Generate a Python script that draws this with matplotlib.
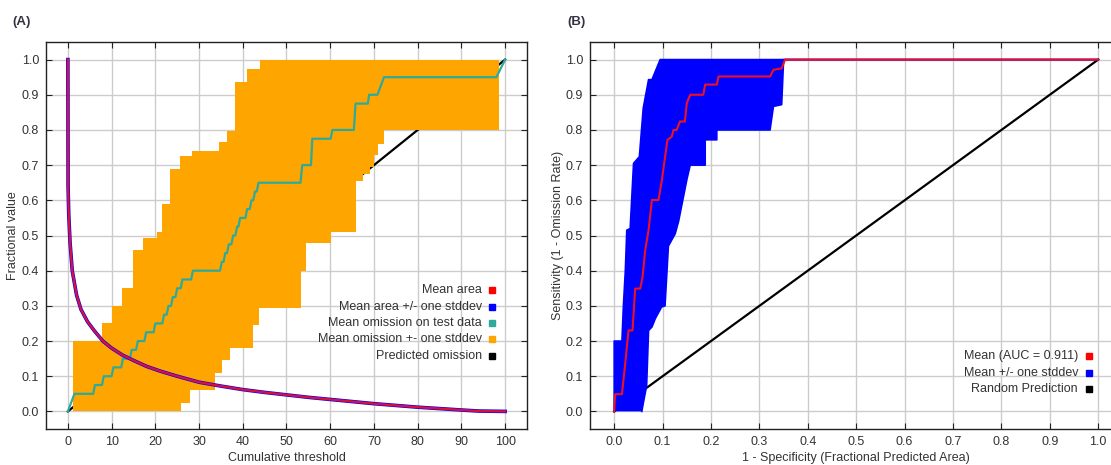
import numpy as np
import matplotlib
matplotlib.use("Agg")
import matplotlib.pyplot as plt

plt.rcParams['font.family'] = ['Liberation Sans', 'DejaVu Sans']

# ---------------- Panel A data ----------------
area_x = [0, 0.05, 0.2, 0.5, 1, 2, 3, 4.5, 6, 8, 10, 12.5, 15, 18, 21, 25, 30, 35, 40,
          45, 50, 55, 60, 65, 70, 75, 80, 85, 90, 94, 100]
area_y = [1.0, 0.64, 0.56, 0.48, 0.40, 0.33, 0.29, 0.255, 0.23, 0.20, 0.18, 0.16, 0.145,
          0.128, 0.115, 0.10, 0.083, 0.072, 0.062, 0.054, 0.047, 0.04, 0.034, 0.028,
          0.022, 0.017, 0.012, 0.008, 0.004, 0.001, 0.0]

om_x = [0, 1.5, 5.8, 6.2, 7.8, 8.2, 10, 10.4, 12.2, 12.6, 14.2, 14.6, 15.6, 16, 17.5,
        17.9, 19.6, 20, 21.6, 22, 22.6, 23, 23.6, 24, 24.6, 25, 25.8, 26.2, 28.2, 28.6,
        34.8, 35.2, 35.6, 36, 36.4, 36.8, 37.4, 37.8, 38.3, 38.7, 39, 39.4, 40.6, 41,
        41.6, 42, 42.4, 42.8, 43.2, 43.6, 53.2, 53.6, 55.6, 55.9, 60.1, 60.5, 65.4, 65.8,
        68.6, 68.9, 70.8, 72.3, 98, 100]
om_y = [0, 0.05, 0.05, 0.075, 0.075, 0.1, 0.1, 0.125, 0.125, 0.15, 0.15, 0.175, 0.175,
        0.2, 0.2, 0.225, 0.225, 0.25, 0.25, 0.275, 0.275, 0.3, 0.3, 0.325, 0.325, 0.35,
        0.35, 0.375, 0.375, 0.4, 0.4, 0.425, 0.425, 0.45, 0.45, 0.475, 0.475, 0.5, 0.5,
        0.525, 0.525, 0.55, 0.55, 0.575, 0.575, 0.6, 0.6, 0.625, 0.625, 0.65, 0.65, 0.70,
        0.70, 0.775, 0.775, 0.80, 0.80, 0.875, 0.875, 0.90, 0.90, 0.95, 0.95, 1.0]

om_up_x = [1.2, 7.7, 10, 12.3, 14.9, 17.2, 20.3, 21.5, 23.4, 25.7, 28.4, 34.5, 36.4,
           38.3, 41, 44, 99.5]
om_up_y = [0.2, 0.25, 0.3, 0.35, 0.46, 0.494, 0.509, 0.59, 0.689, 0.727, 0.741, 0.765,
           0.798, 0.936, 0.974, 1.0, 1.0]
om_lo_x = [1.2, 25.8, 28.0, 33.6, 35.2, 37.0, 42.4, 43.8, 53.4, 54.5, 60.1, 65.8, 67.5,
           69.2, 70.0, 71.0, 72.2, 98.6, 99.5]
om_lo_y = [0.0, 0.025, 0.06, 0.11, 0.145, 0.18, 0.245, 0.295, 0.40, 0.48, 0.51, 0.656,
           0.675, 0.695, 0.73, 0.76, 0.80, 1.0, 1.0]

pred_x = [0, 100]
pred_y = [0, 1]

legend_a = ["Mean area", "Mean area +/- one stddev", "Mean omission on test data",
            "Mean omission +- one stddev", "Predicted omission"]

# ---------------- Panel B data ----------------
roc_x = [0, 0.002, 0.016, 0.0227, 0.0295, 0.0378, 0.0434, 0.0537, 0.0586, 0.064, 0.071,
         0.0778, 0.0916, 0.0985, 0.110, 0.119, 0.1226, 0.129, 0.136, 0.146, 0.150, 0.157,
         0.184, 0.188, 0.212, 0.2155, 0.322, 0.329, 0.346, 0.353, 1.0]
roc_y = [0, 0.049, 0.049, 0.135, 0.23, 0.23, 0.349, 0.349, 0.382, 0.458, 0.515, 0.601,
         0.601, 0.658, 0.772, 0.781, 0.80, 0.80, 0.824, 0.824, 0.876, 0.90, 0.90, 0.929,
         0.929, 0.952, 0.952, 0.971, 0.975, 1.0, 1.0]

roc_up_x = [0, 0, 0.016, 0.019, 0.023, 0.026, 0.033, 0.040, 0.052, 0.060, 0.071, 0.078,
            0.095, 1.0]
roc_up_y = [0, 0.2, 0.2, 0.30, 0.40, 0.515, 0.52, 0.705, 0.724, 0.862, 0.943, 0.943,
            1.0, 1.0]
roc_lo_x = [0.057, 0.061, 0.067, 0.071, 0.078, 0.085, 0.098, 0.105, 0.112, 0.126, 0.133,
            0.150, 0.157, 0.188, 0.188, 0.212, 0.212, 0.322, 0.329, 0.346, 0.35, 1.0]
roc_lo_y = [0.0, 0.03, 0.073, 0.23, 0.24, 0.264, 0.297, 0.30, 0.47, 0.505, 0.54, 0.658,
            0.70, 0.70, 0.772, 0.772, 0.80, 0.80, 0.867, 0.872, 1.0, 1.0]

rand_x = [0, 1]
rand_y = [0, 1]

legend_b = ["Mean (AUC = 0.911)", "Mean +/- one stddev", "Random Prediction"]

# ---------------- styling ----------------
C_RED = "#ff0000"
C_BLUE = "#0000ff"
C_TEAL = "#2eaa9c"
C_ORANGE = "#ffa500"
C_BLACK = "#000000"
TXT = "#333333"
GRID = "#cccccc"


def step_poly(xs, ys):
    """Staircase (steps-post) vertices from step data."""
    px, py = [], []
    for i in range(len(xs)):
        if i > 0:
            px.append(xs[i]); py.append(ys[i - 1])
        px.append(xs[i]); py.append(ys[i])
    return px, py


def style_axes(ax):
    ax.grid(True, color=GRID, linewidth=1.0, zorder=0)
    ax.set_axisbelow(True)
    ax.tick_params(direction='in', top=True, right=True, length=4, width=0.8,
                   labelsize=9, labelcolor=TXT, pad=5, color="#222222")
    for s in ax.spines.values():
        s.set_color("#222222")
        s.set_linewidth(1.0)


fig = plt.figure(figsize=(11.11, 4.65), dpi=100)

# ---------- Panel A ----------
axA = fig.add_axes([46 / 1111, 1 - 429 / 465, 481 / 1111, 387 / 465])
style_axes(axA)
axA.plot(pred_x, pred_y, color=C_BLACK, lw=1.6, zorder=2)
ux, uy = step_poly(om_up_x, om_up_y)
lx, ly = step_poly(om_lo_x, om_lo_y)
axA.fill(ux + lx[::-1], uy + ly[::-1], color=C_ORANGE, lw=0, zorder=3)
axA.plot(om_x, om_y, color=C_TEAL, lw=1.6, zorder=4)
axA.plot(area_x, area_y, color=C_BLUE, lw=2.6, zorder=5)
axA.plot(area_x, area_y, color="#d8103c", lw=1.7, zorder=6)
axA.set_xlim(-5, 105)
axA.set_ylim(-0.05, 1.05)
axA.set_xticks(np.arange(0, 101, 10))
axA.set_yticks(np.arange(0, 1.01, 0.1))
axA.set_yticklabels([f"{v:.1f}" for v in np.arange(0, 1.01, 0.1)])
axA.set_xlabel("Cumulative threshold", fontsize=9, color=TXT, labelpad=3)
axA.set_ylabel("Fractional value", fontsize=9, color=TXT, labelpad=2)
fig.text(12 / 1111, 1 - 22 / 465, "(A)", fontsize=9.5, fontweight='bold',
         color="#333344", va='center', ha='left')

cols_a = [C_RED, C_BLUE, C_TEAL, C_ORANGE, C_BLACK]
rows_a = [290, 306.7, 322.7, 339, 356]
for lab, col, ry in zip(legend_a, cols_a, rows_a):
    yf = (429 - ry) / 387
    axA.text((482 - 46) / 481, yf, lab, transform=axA.transAxes, ha='right',
             va='center', fontsize=9, color=TXT, zorder=10)
    axA.plot([(492 - 46) / 481], [yf], marker='s', markersize=3.8, color=col,
             transform=axA.transAxes, clip_on=False, zorder=10, ls='None')

# ---------- Panel B ----------
axB = fig.add_axes([590 / 1111, 1 - 429 / 465, 532.4 / 1111, 387 / 465])
style_axes(axB)
axB.plot(rand_x, rand_y, color=C_BLACK, lw=1.6, zorder=2)
bux, buy = list(roc_up_x), list(roc_up_y)
blx, bly = list(roc_lo_x), list(roc_lo_y)
axB.fill(bux + blx[::-1], buy + bly[::-1], color=C_BLUE, lw=0, zorder=3)
axB.plot(roc_up_x, roc_up_y, color=C_BLUE, lw=1.2, zorder=3)
axB.plot(roc_lo_x, roc_lo_y, color=C_BLUE, lw=1.2, zorder=3)
axB.plot(roc_x, roc_y, color="#ee1122", lw=1.5, zorder=5)
axB.set_xlim(-0.05, 1.05)
axB.set_ylim(-0.05, 1.05)
axB.set_xticks(np.arange(0, 1.01, 0.1))
axB.set_xticklabels([f"{v:.1f}" for v in np.arange(0, 1.01, 0.1)])
axB.set_yticks(np.arange(0, 1.01, 0.1))
axB.set_yticklabels([f"{v:.1f}" for v in np.arange(0, 1.01, 0.1)])
axB.set_xlabel("1 - Specificity (Fractional Predicted Area)", fontsize=9, color=TXT,
               labelpad=3)
axB.set_ylabel("Sensitivity (1 - Omission Rate)", fontsize=9, color=TXT, labelpad=1)
fig.text(567 / 1111, 1 - 22 / 465, "(B)", fontsize=9.5, fontweight='bold',
         color="#333344", va='center', ha='left')

cols_b = [C_RED, C_BLUE, C_BLACK]
rows_b = [356, 372.7, 389]
for lab, col, ry in zip(legend_b, cols_b, rows_b):
    yf = (429 - ry) / 387
    axB.text((1078 - 590) / 532.4, yf, lab, transform=axB.transAxes, ha='right',
             va='center', fontsize=9, color=TXT, zorder=10)
    axB.plot([(1089 - 590) / 532.4], [yf], marker='s', markersize=3.8, color=col,
             transform=axB.transAxes, clip_on=False, zorder=10, ls='None')

fig.savefig("out.png", dpi=100)
